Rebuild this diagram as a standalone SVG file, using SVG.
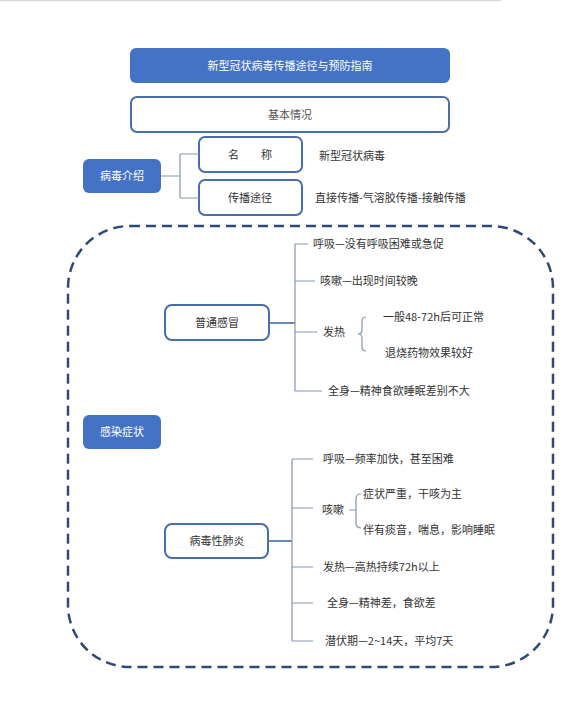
<svg xmlns="http://www.w3.org/2000/svg" width="576" height="702" viewBox="0 0 576 702">
<style>
text{font-family:"Noto Sans CJK SC","Noto Sans",sans-serif;font-size:11px;fill:#333}
.c{text-anchor:middle}
.w{fill:#fff}
.fill{fill:#4472c4;stroke:none}
.box{fill:#fff;stroke:#4a6ead;stroke-width:2}
.ln{fill:none;stroke:#8497b0;stroke-width:1.2}
.tr{fill:none;stroke:#5a7bb0;stroke-width:1.8}
</style>
<rect width="576" height="702" fill="#fff"/>
<line x1="0" y1="0.5" x2="501" y2="0.5" stroke="#d9d9d9" stroke-width="1.5"/>
<rect x="68" y="226" width="485" height="441" rx="62" ry="62" fill="none" stroke="#2f4a75" stroke-width="2.5" stroke-dasharray="10 6"/>
<g id="title"><rect class="fill" x="130" y="48" width="320" height="35" rx="6"/><text class="c w" x="290" y="69.5">新型冠状病毒传播途径与预防指南</text></g>
<g id="basic"><rect class="box" x="131" y="97" width="318" height="35" rx="6"/><text class="c" x="290" y="118.5" style="fill:#555">基本情况</text></g>
<g id="virus"><rect class="fill" x="83" y="159" width="78" height="34" rx="6"/><text class="c w" x="122" y="180">病毒介绍</text></g>
<g id="name"><rect class="box" x="199" y="137" width="103" height="35" rx="6"/><text class="c" x="250" y="158.5">名　　称</text></g>
<g id="route"><rect class="box" x="199" y="180" width="103" height="35" rx="6"/><text class="c" x="250" y="201.5">传播途径</text></g>
<text x="319" y="160">新型冠状病毒</text>
<text x="315" y="202">直接传播-气溶胶传播-接触传播</text>
<g id="cold"><rect class="box" x="165" y="305" width="104" height="35" rx="7"/><text class="c" x="217" y="326.5">普通感冒</text></g>
<g id="infect"><rect class="fill" x="83" y="415" width="78" height="34" rx="6"/><text class="c w" x="122" y="436">感染症状</text></g>
<g id="pneu"><rect class="box" x="165" y="524" width="103" height="34" rx="7"/><text class="c" x="217" y="545">病毒性肺炎</text></g>
<g id="connectors">
<path class="ln" d="M161,176 H180 M180,154 V198 M180,154 H199 M180,198 H199"/>
<path class="tr" d="M269,323 H295"/>
<path class="ln" d="M295,244 V391 M295,244 H308 M295,281 H315 M295,332 H317 M295,391 H322"/>
<path class="ln" d="M366,317 Q362,317 362,321 V330 Q362,334 358,334 Q362,334 362,338 V347 Q362,351 366,351"/>
<path class="tr" d="M268,541 H292"/>
<path class="ln" d="M292,459 V641 M292,459 H313 M292,508 H313 M292,567 H313 M292,603 H313 M292,641 H313"/>
<path class="ln" d="M349,510 H356 M361,494 Q356,494 356,499 V523 Q356,528 361,528"/>
</g>
<text x="313" y="248">呼吸—没有呼吸困难或急促</text>
<text x="320" y="285">咳嗽—出现时间较晚</text>
<text x="323" y="336">发热</text>
<text x="383" y="321">一般48-72h后可正常</text>
<text x="385" y="357">退烧药物效果较好</text>
<text x="328" y="395">全身—精神食欲睡眠差别不大</text>
<text x="323" y="463">呼吸—频率加快，甚至困难</text>
<text x="322" y="514">咳嗽</text>
<text x="363" y="498">症状严重，干咳为主</text>
<text x="363" y="534">伴有痰音，喘息，影响睡眠</text>
<text x="323" y="571">发热—高热持续72h以上</text>
<text x="327" y="607">全身—精神差，食欲差</text>
<text x="325" y="645">潜伏期—2~14天，平均7天</text>
</svg>
